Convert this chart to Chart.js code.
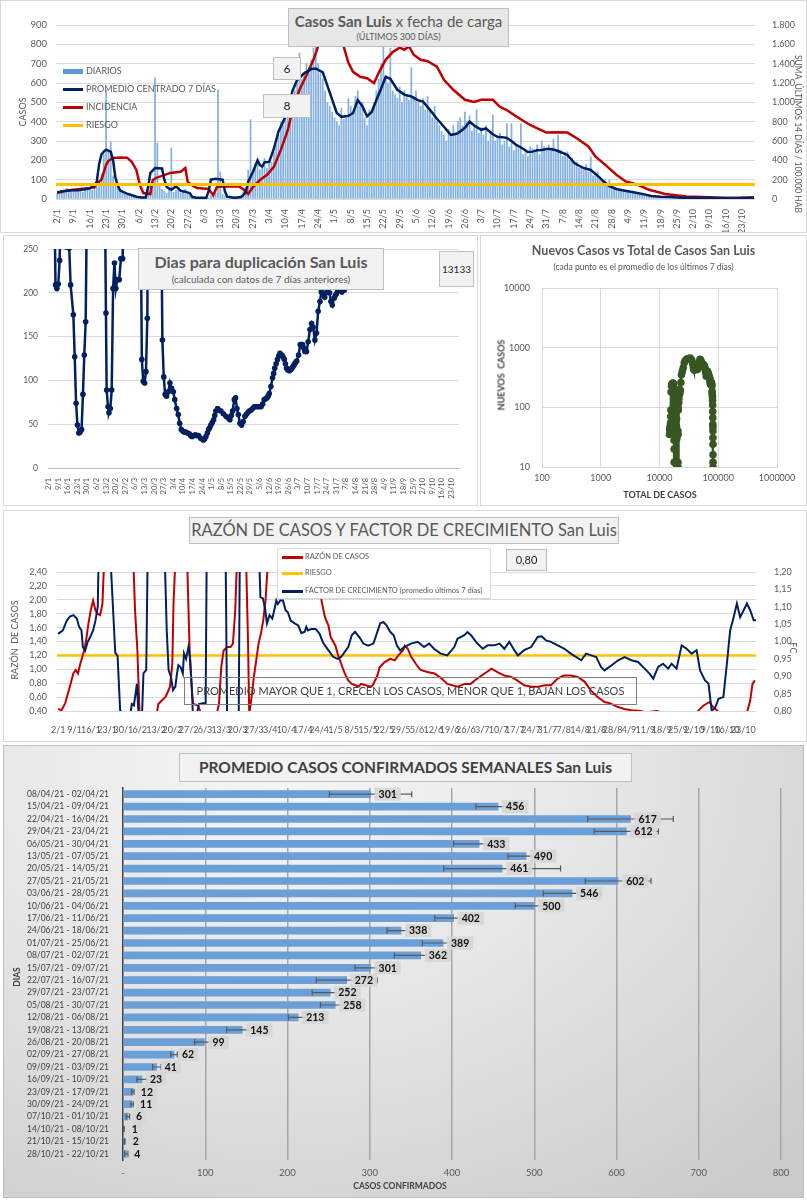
<!DOCTYPE html>
<html lang="es">
<head>
<meta charset="UTF-8">
<title>Casos San Luis</title>
<script src="https://cdn.jsdelivr.net/npm/chart.js"></script>
<style>
  body { margin: 0; background: #fff; font-family: Lato, "Open Sans", sans-serif; }
  #page { position: relative; width: 807px; height: 1200px; overflow: hidden; }
  .frame { position: absolute; box-sizing: border-box; border: 1px solid #d9d9d9; }
  canvas { position: absolute; }
  .box { position: absolute; box-sizing: border-box; background: #f2f2f2; border: 1px solid #bfbfbf;
         color: #595959; text-align: center; white-space: nowrap; }
  .txt { position: absolute; white-space: nowrap; color: #595959; }
  .rot { position: absolute; white-space: nowrap; transform: translate(-50%, -50%) rotate(-90deg); }
  .rotr { position: absolute; white-space: nowrap; transform: translate(-50%, -50%) rotate(90deg); }
  .sw { position: absolute; }
</style>
</head>
<body>
<div id="page">
  <!-- frames -->
  <div class="frame" style="left:0;top:0;width:807px;height:233px"></div>
  <div class="frame" style="left:3px;top:235px;width:475px;height:271px"></div>
  <div class="frame" style="left:480px;top:235px;width:327px;height:271px"></div>
  <div class="frame" style="left:3px;top:510px;width:804px;height:232px"></div>
  <div class="frame" style="left:3px;top:745px;width:801px;height:453px;border-color:#bfbfbf;
       background: radial-gradient(ellipse 90% 120% at 35% 5%, #f6f6f6 0%, #e6e6e6 45%, #cbcbcb 100%);"></div>

  <canvas id="c1" width="807" height="232" style="left:0;top:0"></canvas>
  <canvas id="c2" width="480" height="274" style="left:0;top:233px"></canvas>
  <canvas id="c3" width="327" height="274" style="left:480px;top:233px"></canvas>
  <canvas id="c4" width="807" height="231" style="left:0;top:510px"></canvas>
  <canvas id="c5" width="800" height="452" style="left:3px;top:745px"></canvas>

  <!-- chart 1 texts -->
  <div class="box" style="left:288px;top:8px;width:221px;height:39px;background:#e7e7e7">
    <div style="font-size:15px;line-height:19px;margin-top:3px"><b>Casos San Luis</b> x fecha de carga</div>
    <div style="font-size:9px;line-height:12px">(ÚLTIMOS 300 DÍAS)</div>
  </div>
  <div class="box" style="left:273px;top:57px;width:28px;height:23px;font-size:12px;line-height:21px;color:#262626">6</div>
  <div class="box" style="left:263px;top:94px;width:48px;height:24px;font-size:12px;line-height:22px;color:#262626">8</div>
  <div class="sw" style="left:63px;top:69px;width:20px;height:5px;background:#5b9bd5"></div>
  <div class="txt" style="left:86px;top:65px;font-size:9px">DIARIOS</div>
  <div class="sw" style="left:63px;top:88px;width:20px;height:3px;background:#002060"></div>
  <div class="txt" style="left:86px;top:83px;font-size:9px">PROMEDIO CENTRADO 7 DÍAS</div>
  <div class="sw" style="left:63px;top:106px;width:20px;height:3px;background:#c00000"></div>
  <div class="txt" style="left:86px;top:101px;font-size:9px">INCIDENCIA</div>
  <div class="sw" style="left:63px;top:124px;width:20px;height:3px;background:#ffc000"></div>
  <div class="txt" style="left:86px;top:119px;font-size:9px">RIESGO</div>
  <div class="rot txt" style="left:22px;top:112px;font-size:9px;transform:translate(-50%,-50%) rotate(-90deg)">CASOS</div>
  <div class="rotr txt" style="left:798px;top:134px;font-size:8.5px;transform:translate(-50%,-50%) rotate(90deg)">SUMA&nbsp; ÚLTIMOS 14 DÍAS / 100.000 HAB</div>

  <!-- chart 2 texts -->
  <div class="box" style="left:138px;top:248px;width:246px;height:42px">
    <div style="font-size:16px;line-height:20px;margin-top:3px;font-weight:bold">Dias para duplicación San Luis</div>
    <div style="font-size:10px;line-height:14px">(calculada con datos de 7 días anteriores)</div>
  </div>
  <div class="box" style="left:439px;top:251px;width:35px;height:36px;font-size:10px;line-height:34px;color:#262626">13133</div>

  <!-- chart 3 texts -->
  <div class="txt" style="left:480px;top:243px;width:327px;text-align:center;font-size:12.5px;font-weight:bold">Nuevos Casos vs Total de Casos San Luis</div>
  <div class="txt" style="left:480px;top:262px;width:327px;text-align:center;font-size:8.5px">(cada punto es el promedio de los últimos 7 días)</div>
  <div class="rot txt" style="left:501px;top:375px;font-size:9px;font-weight:bold;color:#404040;transform:translate(-50%,-50%) rotate(-90deg)">NUEVOS&nbsp; CASOS</div>
  <div class="txt" style="left:580px;top:489px;width:160px;text-align:center;font-size:9px;font-weight:bold;color:#404040">TOTAL DE CASOS</div>

  <!-- chart 4 texts -->
  <div class="box" style="left:189px;top:517px;width:430px;height:27px;font-size:16.5px;line-height:25px">RAZÓN DE CASOS Y FACTOR DE CRECIMIENTO San Luis</div>
  <div class="box" style="left:277px;top:548px;width:214px;height:51px;background:#fff;border-color:#d9d9d9"></div>
  <div class="sw" style="left:282px;top:556px;width:21px;height:3px;background:#c00000"></div>
  <div class="txt" style="left:305px;top:552px;font-size:7.5px">RAZÓN DE CASOS</div>
  <div class="sw" style="left:282px;top:572px;width:21px;height:3px;background:#ffc000"></div>
  <div class="txt" style="left:305px;top:568px;font-size:7.5px">RIESGO</div>
  <div class="sw" style="left:282px;top:590px;width:21px;height:3px;background:#002060"></div>
  <div class="txt" style="left:305px;top:586px;font-size:7.5px">FACTOR DE CRECIMIENTO (promedio últimos 7 días)</div>
  <div class="box" style="left:506px;top:549px;width:41px;height:22px;font-size:11px;line-height:20px;color:#262626">0,80</div>
  <div class="box" style="left:184px;top:677px;width:453px;height:28px;background:transparent;border-color:#7f7f7f;font-size:11px;line-height:26px;color:#404040">PROMEDIO MAYOR QUE 1, CRECEN LOS CASOS, MENOR QUE 1, BAJAN LOS CASOS</div>
  <div class="rot txt" style="left:14px;top:640px;font-size:9px;transform:translate(-50%,-50%) rotate(-90deg)">RAZÓN&nbsp; DE CASOS</div>
  <div class="rotr txt" style="left:793px;top:648px;font-size:9px;transform:translate(-50%,-50%) rotate(90deg)">FC</div>

  <!-- chart 5 texts -->
  <div class="box" style="left:179px;top:753px;width:453px;height:29px;font-size:15.5px;line-height:27px;font-weight:bold;color:#404040">PROMEDIO CASOS CONFIRMADOS SEMANALES San Luis</div>
  <div class="rot txt" style="left:17px;top:977px;font-size:8.5px;font-weight:bold;color:#404040;transform:translate(-50%,-50%) rotate(-90deg)">DIAS</div>
  <div class="txt" style="left:320px;top:1181px;width:160px;text-align:center;font-size:8.5px;font-weight:bold;color:#404040">CASOS CONFIRMADOS</div>
</div>

<script>
  // ---------- data ----------
  // fecha labels every 7 days starting 2/1
  const fechas = ['2/1','9/1','16/1','23/1','30/1','6/2','13/2','20/2','27/2','6/3','13/3','20/3','27/3',
    '3/4','10/4','17/4','24/4','1/5','8/5','15/5','22/5','29/5','5/6','12/6','19/6','26/6','3/7','10/7',
    '17/7','24/7','31/7','7/8','14/8','21/8','28/8','4/9','11/9','18/9','25/9','2/10','9/10','16/10','23/10'];

  // daily cases, day 0 = 2/1
  const diarios = [
    28, 35, 42, 30, 55, 48, 38, 52, 45, 40,
    50, 35, 48, 55, 60, 45, 70, 60, 90, 130,
    230, 565, 250, 295, 120, 80, 60, 40, 30, 25,
    20, 30, 15, 10, 5, 8, 0, 12, 5, 60,
    80, 95, 627, 290, 70, 50, 40, 30, 55, 264,
    35, 45, 60, 30, 45, 50, 25, 20, 5, 0,
    8, 3, 10, 0, 6, 4, 20, 35, 30, 565,
    140, 25, 15, 5, 8, 0, 10, 3, 12, 20,
    45, 60, 150, 410, 130, 180, 200, 150, 170, 210,
    160, 200, 190, 240, 280, 330, 400, 380, 420, 460,
    500, 520, 560, 600, 755, 620, 650, 700, 680, 720,
    780, 790, 700, 650, 620, 560, 500, 480, 450, 420,
    400, 380, 470, 410, 420, 520, 480, 440, 530, 560,
    480, 500, 420, 380, 460, 440, 500, 560, 620, 700,
    850, 640, 600, 780, 560, 540, 520, 580, 500, 560,
    540, 510, 680, 530, 560, 500, 480, 520, 460, 530,
    461, 420, 480, 400, 380, 350, 330, 300, 360, 320,
    380, 340, 400, 420, 380, 450, 400, 430, 350, 380,
    461, 340, 370, 330, 380, 300, 350, 435, 300, 320,
    340, 280, 300, 390, 270, 390, 250, 280, 260, 390,
    230, 250, 220, 270, 260, 240, 280, 230, 300, 270,
    250, 280, 260, 310, 240, 330, 250, 220, 240, 245,
    200, 210, 180, 190, 160, 170, 150, 180, 140, 218,
    120, 140, 140, 110, 90, 100, 80, 98, 70, 60,
    55, 50, 45, 40, 45, 35, 30, 35, 28, 30,
    25, 20, 22, 18, 15, 16, 12, 14, 10, 12,
    10, 8, 12, 9, 7, 10, 6, 8, 5, 7,
    6, 4, 8, 5, 3, 6, 4, 5, 2, 6,
    3, 4, 2, 5, 1, 3, 2, 4, 1, 2,
    3, 2, 5, 4, 3, 6, 5, 4, 7, 6
  ];

  // [day, value]
  const promedio7 = [[0,35],[3,42],[6,45],[9,45],[12,50],[14,55],[16,70],[17,90],[18,180],[19,230],[20,245],
    [21,255],[23,245],[24,200],[25,110],[26,70],[27,45],[28,38],[30,28],[32,20],[34,12],[36,8],[38,8],[39,60],
    [40,135],[42,160],[45,158],[46,100],[47,62],[49,48],[51,65],[52,55],[53,42],[55,38],[57,30],[58,10],[60,6],
    [64,6],[65,40],[66,100],[68,105],[71,100],[72,40],[73,12],[76,6],[79,10],[81,35],[82,90],[84,140],[86,200],
    [87,175],[88,168],[89,190],[91,192],[93,260],[95,350],[97,400],[99,460],[101,560],[103,615],[106,650],
    [109,672],[111,675],[114,655],[117,550],[120,445],[122,425],[125,430],[127,445],[129,512],[131,480],
    [133,428],[135,450],[137,512],[139,570],[141,632],[143,622],[146,565],[149,540],[152,530],[155,510],
    [157,504],[160,461],[163,415],[166,374],[169,331],[172,340],[175,368],[177,400],[179,380],[182,358],
    [184,365],[187,335],[189,322],[191,320],[193,316],[195,300],[197,280],[200,260],[202,243],[204,245],
    [206,252],[208,254],[210,258],[212,259],[214,252],[216,243],[219,228],[222,186],[224,172],[226,160],
    [229,150],[231,130],[233,109],[235,85],[237,67],[240,52],[242,47],[245,40],[249,31],[252,24],[255,16],
    [259,12],[263,10],[268,7],[275,6],[285,5],[299,5]];

  // incidencia, right axis (sum 14 days / 100.000 hab)
  const incidencia = [[0,65],[6,93],[13,110],[16,120],[18,180],[19,200],[21,352],[22,395],[24,424],[27,430],
    [30,428],[32,386],[34,300],[35.5,145],[37,62],[40,52],[41,196],[42.5,218],[45,240],[48.5,270],[53,282],
    [55,320],[56,180],[58,140],[60,114],[65,104],[67,40],[68.6,128],[74,132],[78,130],[80,100],[82,52],
    [84,124],[87,196],[90,248],[93,332],[96,508],[99,714],[101,922],[104,1130],[107,1280],[110,1440],
    [113,1648],[116,1850],[119,1900],[121,1800],[123,1575],[125,1409],[127,1316],[130,1264],[133,1250],
    [136,1200],[138,1305],[141,1440],[144,1520],[147,1565],[149,1544],[151,1580],[153,1492],[156,1440],
    [159,1425],[163,1368],[166,1233],[170,1130],[175,1026],[179,1005],[182,1026],[187,1026],[190,954],
    [193,920],[196,870],[200,810],[203,766],[207,720],[210,687],[214,690],[219,687],[223,629],[228,543],
    [231,440],[236,337],[240,251],[244,182],[249,148],[254,96],[261,52],[270,27],[280,17],[287,10],
    [293,12],[299,18]];
  const riesgoIncidencia = 150;

  // dias para duplicacion [day, dias] (values above 250 leave the plot)
  const duplicacion = [[1,320],[4,320],[5,209],[6,205],[7,210],[8,237],[9,320],[12,320],[13,252],[15,251],
    [16,209],[18,175],[19,127],[20,74],[21,49],[22,40],[23,41],[24,44],[25,84],[26,129],[27,167],[28,320],
    [41,320],[41.8,177],[42.3,89],[43.3,70],[44,63],[45,68],[46,89],[47,205],[48,234],[49,205],[50,215],
    [51.5,215],[52.7,239],[54,239],[54.5,320],[67,320],[68,124],[69,99],[70,97],[71,110],[72,171],[72.5,320],
    [82,320],[83,146],[84,104],[85,84],[86,82],[87.3,87],[88.5,97],[89.7,91],[91,87],[92,78],[93.4,68],
    [94.6,61],[95.6,51],[96.8,44],[98,42],[99,41],[100,41],[101.3,40],[102.6,39],[103.6,37],[104.6,36],
    [105.8,37],[107,38],[108.2,37],[109.4,37],[111,34],[112.8,32],[113.8,33],[114.8,36],[115.8,40],
    [116.7,44],[117.5,46],[118.4,49],[119.4,52],[120.4,55],[121.2,60],[122,65],[123.3,68],[124.5,66],
    [125.7,65],[127.5,62],[129.4,59],[131,57],[132.3,55],[133.3,60],[134.2,65],[135.5,78],[136.4,80],
    [137.4,68],[138.4,61],[139.6,51],[140.8,49],[142,53],[143.2,59],[144.2,61],[145.2,63],[146.4,65],
    [147.6,66],[148.8,68],[150,70],[151.2,70],[152.5,70],[153.8,70],[155,70],[156.2,73],[157.3,78],
    [158.3,79],[159.3,80],[160.2,82],[161,85],[162.2,93],[163.4,103],[164.2,108],[165,114],[166,119],
    [167,124],[168,128],[168.8,131],[170.2,129],[171,127],[172,124],[172.8,119],[173.6,114],[174.6,112],
    [175.6,111],[176.5,112],[177.5,114],[178.4,116],[179.2,118],[180,120],[181,122],[182.4,129],[183.6,141],
    [184.5,141],[185.3,141],[186.2,137],[187,133],[188.2,133],[189.4,144],[190.7,158],[191.9,165],[193,161],
    [194.3,146],[195.5,154],[196.7,179],[198,190],[199,201],[200.4,199],[201.5,195],[202.5,200],[203.5,205],
    [205,200],[206,190],[207,186],[208.4,194],[209.2,197],[210,199],[211,202],[212,205],[213,203],[214,201],
    [215.7,203],[217,209],[218,230],[219,320],[299,320]];

  // nuevos casos vs total de casos [total, nuevos]
  const totalVsNuevos = [[14800,35],[14920,42],[15050,45],[15190,45],[15330,50],[15430,55],[15560,70],
    [15640,90],[15760,180],[15990,230],[16220,245],[16780,255],[17030,252],[17320,245],[17440,200],
    [17520,110],[17580,70],[17620,45],[17650,38],[17700,28],[17745,20],[17760,12],[17775,8],[17840,60],
    [17920,135],[18640,160],[19000,160],[19050,158],[19090,100],[19120,62],[19440,48],[19520,65],
    [19610,42],[19700,38],[19750,30],[19755,10],[19765,6],[19800,40],[19820,100],[19850,105],[20415,105],
    [20580,100],[20595,40],[20600,12],[20615,6],[20650,10],[20710,35],[20860,90],[21270,120],[21400,140],
    [21780,200],[22100,168],[22310,190],[22670,192],[23100,260],[23660,350],[24440,400],[25340,460],
    [26360,560],[27480,610],[28840,640],[30870,660],[33150,670],[34500,640],[35750,600],[36800,540],
    [37700,470],[38480,430],[39360,420],[40220,430],[41160,445],[42250,510],[43230,480],[44080,430],
    [44980,450],[45980,490],[47300,560],[48850,640],[50220,620],[51350,580],[52450,530],[53510,540],
    [55110,525],[56700,510],[58200,490],[59190,461],[60490,415],[61620,374],[62520,331],[63600,340],
    [64850,368],[65700,400],[66480,380],[67530,358],[68240,365],[69240,335],[69860,322],[70480,320],
    [71170,316],[71830,300],[72370,280],[73240,260],[73700,243],[74190,245],[74710,252],[75240,254],
    [75760,258],[76290,259],[76840,252],[77400,243],[78100,228],[78630,186],[79000,172],[79320,160],
    [79860,150],[80120,130],[80400,109],[80590,85],[80750,67],[80960,52],[81060,47],[81180,40],
    [81310,31],[81380,24],[81440,16],[81490,12],[81530,10],[81570,7],[81610,6],[81730,5]];

  // razon de casos (left axis) [day, razon]; values outside 0,4-2,4 leave the plot
  const razonCasos = [[0,0.43],[1.4,0.41],[3,0.51],[4,0.63],[5,0.75],[6.5,0.94],[7.5,0.99],[8.5,0.94],
    [9.5,1.08],[11,1.25],[12,1.42],[13,1.66],[14,1.85],[15,1.99],[16,1.85],[17,1.80],[18,1.78],[19,1.94],
    [20,2.8],[31,3.0],[32,2.8],[33,1.85],[34,1.27],[34.5,0.79],[35,0.3],[42,0.3],[43,0.50],[44.5,0.55],
    [46,0.60],[47,0.67],[48,0.75],[49,1.08],[49.5,1.94],[50,2.33],[51,3.0],[55,3.0],[56.5,1.18],[57.5,0.65],
    [58,0.5],[60,0.48],[61.5,0.35],[68,0.35],[69,0.50],[70,1.03],[71,1.27],[72.5,1.32],[74,1.32],[75,1.37],
    [76,1.85],[77,2.8],[80.5,2.8],[81.5,1.37],[82,0.35],[83,0.60],[84,0.89],[85,1.13],[86,1.37],[87,1.51],
    [88,1.70],[89,1.99],[90.5,2.8],[112,2.8],[113,1.99],[114.5,1.75],[116,1.63],[117,1.46],[119,1.34],
    [120,1.22],[122,1.03],[123,0.94],[124.5,0.84],[126,0.79],[127.5,0.77],[129,0.75],[130,0.79],[132,0.77],
    [134,0.75],[135,0.77],[137,0.91],[138,1.03],[140,1.10],[142.5,1.15],[144.5,1.13],[146,1.20],[148,1.27],
    [148.8,1.34],[150,1.30],[151.5,1.18],[153.5,1.08],[155.5,0.99],[158.5,0.96],[161.5,0.94],[164.5,0.87],
    [167,0.79],[171.5,0.75],[174.5,0.79],[177,0.79],[180,0.87],[183,0.94],[186,1.01],[188.5,0.96],
    [191.5,0.91],[194.5,0.89],[197,0.84],[200,0.77],[203,0.75],[206,0.75],[209,0.77],[211.5,0.77],
    [214.5,0.87],[217,0.91],[220,0.91],[223,0.89],[226,0.82],[228.5,0.70],[231.5,0.60],[234.5,0.53],
    [237,0.51],[240,0.46],[243,0.43],[246,0.41],[250,0.40],[252,0.38],[257,0.40],[260,0.37],[274,0.38],
    [277,0.48],[279.5,0.53],[281,0.46],[283,0.40],[285,0.35],[295.5,0.36],[297,0.55],[298,0.79],[299,0.84]];
  const riesgoRazon = 1.2;

  // factor de crecimiento (right axis) [day, fc]
  const factorCrecimiento = [[0,1.022],[2,1.032],[3.7,1.06],[5,1.072],[6.6,1.076],[8,1.066],[9,1.042],
    [10,1.032],[10.6,0.984],[11.6,0.974],[12.6,0.998],[13.7,1.012],[15,1.032],[16,1.06],[17,1.10],[17.5,1.3],
    [22,1.3],[23.7,1.074],[24.5,0.968],[25.5,0.958],[26.6,0.802],[28,0.79],[31,0.79],[31.6,0.82],[32.5,0.816],
    [33.8,0.878],[34.5,0.79],[36,0.79],[36.6,0.908],[37.8,0.918],[38.5,1.3],[45.5,1.3],[46.6,1.032],
    [47.4,0.918],[48.4,0.898],[49.3,0.86],[50.3,0.87],[51,0.908],[51.6,0.932],[52.6,0.926],[53.5,0.908],
    [54,0.966],[54.9,0.95],[55.9,0.984],[56.6,0.956],[57.4,0.86],[57.8,0.79],[59.5,0.79],[60.4,0.82],
    [62,0.822],[63.3,0.822],[63.8,1.3],[71.8,1.3],[72.5,0.79],[77.5,0.79],[78,1.3],[86,1.3],[86.8,1.128],
    [87.9,1.124],[88.9,1.09],[89.6,1.052],[90.7,1.076],[91.9,1.066],[92.9,1.094],[93.6,1.118],[94.3,1.108],
    [95.3,1.118],[96.5,1.118],[97.6,1.09],[98.6,1.084],[99.8,1.06],[101.5,1.052],[103,1.046],[104.4,1.024],
    [105.8,1.028],[106.5,1.042],[107.2,1.032],[108.6,1.036],[110.5,1.036],[112.2,1.022],[113.6,0.998],
    [115,0.984],[116.5,0.97],[118,0.956],[120,0.95],[121.5,0.956],[123,0.97],[124.5,0.984],[126,1.018],
    [127.4,1.028],[129.3,1.012],[131,0.994],[133,0.988],[135.3,0.994],[136.7,1.022],[138.2,1.052],
    [139.6,1.056],[141,1.046],[142.5,1.028],[144,1.018],[145.4,0.988],[146.8,0.974],[148.5,0.984],
    [151.4,0.994],[154.3,0.999],[157,0.984],[159.2,0.994],[161.3,0.979],[164.2,0.965],[167,0.96],[170,0.984],
    [171.4,1.008],[174.3,1.018],[175.7,1.027],[177.2,1.018],[179.3,0.999],[182.2,0.979],[184.3,0.989],
    [187.2,0.989],[189.4,0.994],[191.5,0.979],[193.6,0.999],[195.8,0.975],[197.3,0.96],[200,0.975],
    [203,0.984],[205.8,1.013],[207.5,1.015],[209.4,1.003],[211.5,0.999],[214.4,0.989],[217.3,0.979],
    [220,0.965],[224.5,0.946],[226.6,0.965],[228.8,0.96],[230.9,0.955],[233,0.927],[234.5,0.917],
    [237.4,0.931],[240.3,0.946],[243.1,0.955],[246,0.946],[248.9,0.941],[251.7,0.922],[253.9,0.907],
    [255.4,0.893],[257.5,0.927],[259.6,0.936],[261.8,0.922],[263.3,0.936],[265.4,0.922],[267.6,0.989],
    [269.7,0.979],[271.9,0.965],[274,0.975],[275.5,0.917],[277.6,0.888],[279.1,0.879],[280.5,0.80],
    [282,0.81],[283.4,0.835],[285.5,0.84],[287,0.936],[288.4,1.032],[289.9,1.07],[291.3,1.109],[292.7,1.07],
    [294.2,1.09],[295.6,1.109],[297,1.09],[298.5,1.061],[299.5,1.061]];

  const razonTicks = [0.4, 0.6, 0.8, 1.0, 1.2, 1.4, 1.6, 1.8, 2.0, 2.2, 2.4];
  const fcTicks = [0.80, 0.85, 0.90, 0.95, 1.00, 1.05, 1.10, 1.15, 1.20];
  const logTicksX = [100, 1000, 10000, 100000, 1000000];
  const logTicksY = [10, 100, 1000, 10000];

  // weekly averages
  const semanas = ['08/04/21 - 02/04/21','15/04/21 - 09/04/21','22/04/21 - 16/04/21','29/04/21 - 23/04/21',
    '06/05/21 - 30/04/21','13/05/21 - 07/05/21','20/05/21 - 14/05/21','27/05/21 - 21/05/21',
    '03/06/21 - 28/05/21','10/06/21 - 04/06/21','17/06/21 - 11/06/21','24/06/21 - 18/06/21',
    '01/07/21 - 25/06/21','08/07/21 - 02/07/21','15/07/21 - 09/07/21','22/07/21 - 16/07/21',
    '29/07/21 - 23/07/21','05/08/21 - 30/07/21','12/08/21 - 06/08/21','19/08/21 - 13/08/21',
    '26/08/21 - 20/08/21','02/09/21 - 27/08/21','09/09/21 - 03/09/21','16/09/21 - 10/09/21',
    '23/09/21 - 17/09/21','30/09/21 - 24/09/21','07/10/21 - 01/10/21','14/10/21 - 08/10/21',
    '21/10/21 - 15/10/21','28/10/21 - 22/10/21'];
  const promedios = [301, 456, 617, 612, 433, 490, 461, 602, 546, 500, 402, 338, 389, 362, 301,
    272, 252, 258, 213, 145, 99, 62, 41, 23, 12, 11, 6, 1, 2, 4];
  const errores = [50, 27, 52, 39, 31, 22, 71, 40, 35, 23, 23, 17, 25, 32, 19,
    37, 22, 18, 12, 19, 12, 4, 5, 6, 1.5, 1.5, 2, 0.5, 0.5, 2];

  // ---------- helpers ----------
  Chart.defaults.font.family = 'Lato, "Open Sans", sans-serif';
  Chart.defaults.color = '#595959';
  Chart.defaults.animation = false;

  const pts = arr => arr.map(p => ({ x: p[0], y: p[1] }));
  const fixW = w => s => { s.width = w; };
  const fixH = h => s => { s.height = h; };
  const weekTicks = s => { s.ticks = fechas.map((f, i) => ({ value: i * 7 })); };
  const noPlugins = { legend: { display: false }, tooltip: { enabled: false } };
  const miles = v => String(v).replace(/\B(?=(\d{3})+(?!\d))/g, '.');
  const coma = v => v.toFixed(2).replace('.', ',');

  // ---------- chart 1: casos ----------
  new Chart(document.getElementById('c1'), {
    type: 'bar',
    data: {
      datasets: [
        { type: 'line', data: [{ x: -0.5, y: riesgoIncidencia }, { x: 299.5, y: riesgoIncidencia }], yAxisID: 'y2',
          borderColor: '#ffc000', borderWidth: 3, pointRadius: 0, order: 0 },
        { type: 'line', data: pts(promedio7), yAxisID: 'y', borderColor: '#002060', borderWidth: 2.5,
          pointRadius: 0, order: 1 },
        { type: 'line', data: pts(incidencia), yAxisID: 'y2', borderColor: '#c00000', borderWidth: 2.5,
          pointRadius: 0, order: 2 },
        { type: 'bar', data: diarios.map((v, i) => ({ x: i, y: v })), yAxisID: 'y',
          backgroundColor: '#86b2e2', barThickness: 1.1, order: 3 }
      ]
    },
    options: {
      responsive: false,
      layout: { padding: { top: 25, left: 0, right: 0, bottom: 0 } },
      plugins: noPlugins,
      scales: {
        x: { type: 'linear', min: -0.5, max: 299.5, offset: false, afterBuildTicks: weekTicks, afterFit: fixH(33),
             grid: { display: false }, border: { display: false },
             ticks: { autoSkip: false, minRotation: 90, maxRotation: 90, padding: 2, font: { size: 9 },
                      callback: (v, i) => fechas[i] } },
        y: { min: 0, max: 900, afterFit: fixW(56), border: { display: false },
             grid: { color: '#d9d9d9', drawTicks: false },
             ticks: { stepSize: 100, padding: 9, font: { size: 9.5 } } },
        y2: { position: 'right', min: 0, max: 1800, afterFit: fixW(52), border: { display: false },
              grid: { display: false },
              ticks: { stepSize: 200, padding: 9, font: { size: 9 }, callback: v => miles(v) } }
      }
    }
  });

  // ---------- chart 2: dias para duplicacion ----------
  new Chart(document.getElementById('c2'), {
    type: 'line',
    data: {
      datasets: [{ data: pts(duplicacion), borderColor: '#002060', borderWidth: 2.5, pointRadius: 2.8,
                   pointBackgroundColor: '#002060', pointBorderWidth: 0 }]
    },
    options: {
      responsive: false,
      layout: { padding: { top: 16, right: 21, left: 0, bottom: 0 } },
      plugins: noPlugins,
      scales: {
        x: { type: 'linear', min: -0.5, max: 299.5, afterBuildTicks: weekTicks, afterFit: fixH(39),
             grid: { display: false }, border: { color: '#bfbfbf' },
             ticks: { autoSkip: false, minRotation: 90, maxRotation: 90, padding: 2, font: { size: 7.5 },
                      callback: (v, i) => fechas[i] } },
        y: { min: 0, max: 250, afterFit: fixW(48), border: { display: false },
             grid: { color: '#d9d9d9', drawTicks: false },
             ticks: { stepSize: 50, padding: 10, font: { size: 8.5 } } }
      }
    }
  });

  // ---------- chart 3: nuevos vs total ----------
  new Chart(document.getElementById('c3'), {
    type: 'scatter',
    data: {
      datasets: [{ data: pts(totalVsNuevos), showLine: true, borderColor: '#375623', borderWidth: 2.5,
                   pointRadius: 3.8, pointBackgroundColor: '#375623', pointBorderWidth: 0 }]
    },
    options: {
      responsive: false,
      layout: { padding: { top: 55, right: 30, left: 0, bottom: 0 } },
      plugins: noPlugins,
      scales: {
        x: { type: 'logarithmic', min: 100, max: 1000000, afterFit: fixH(40),
             afterBuildTicks: s => { s.ticks = logTicksX.map(v => ({ value: v })); },
             grid: { color: '#d9d9d9', drawTicks: false }, border: { color: '#d9d9d9' },
             ticks: { padding: 6, font: { size: 9 }, callback: v => String(v) } },
        y: { type: 'logarithmic', min: 10, max: 10000, afterFit: fixW(62),
             afterBuildTicks: s => { s.ticks = logTicksY.map(v => ({ value: v })); },
             grid: { color: '#d9d9d9', drawTicks: false }, border: { color: '#d9d9d9' },
             ticks: { padding: 12, font: { size: 9 }, callback: v => String(v) } }
      }
    }
  });

  // ---------- chart 4: razon de casos y factor de crecimiento ----------
  new Chart(document.getElementById('c4'), {
    type: 'line',
    data: {
      datasets: [
        { data: [{ x: -0.5, y: riesgoRazon }, { x: 299.5, y: riesgoRazon }], yAxisID: 'y',
          borderColor: '#ffc000', borderWidth: 2.5, pointRadius: 0, order: 2 },
        { data: pts(razonCasos), yAxisID: 'y', borderColor: '#c00000', borderWidth: 2, pointRadius: 0, order: 1 },
        { data: pts(factorCrecimiento), yAxisID: 'y2', borderColor: '#002060', borderWidth: 2, pointRadius: 0, order: 0 }
      ]
    },
    options: {
      responsive: false,
      layout: { padding: { top: 62, left: 0, right: 0, bottom: 0 } },
      plugins: noPlugins,
      scales: {
        x: { type: 'linear', min: -0.5, max: 299.5, afterBuildTicks: weekTicks, afterFit: fixH(30),
             grid: { display: false }, border: { display: false },
             ticks: { autoSkip: false, minRotation: 0, maxRotation: 0, padding: 6, font: { size: 9 },
                      callback: (v, i) => fechas[i] } },
        y: { min: 0.4, max: 2.4, afterFit: fixW(57), border: { display: false },
             afterBuildTicks: s => { s.ticks = razonTicks.map(v => ({ value: v })); },
             grid: { color: '#d9d9d9', drawTicks: false },
             ticks: { padding: 10, font: { size: 9 }, callback: v => coma(v) } },
        y2: { position: 'right', min: 0.8, max: 1.2, afterFit: fixW(51), border: { display: false },
              afterBuildTicks: s => { s.ticks = fcTicks.map(v => ({ value: v })); },
              grid: { display: false },
              ticks: { padding: 10, font: { size: 9 }, callback: v => coma(v) } }
      }
    }
  });

  // ---------- chart 5: promedio semanal ----------
  const errorBars = {
    id: 'errorBars',
    afterDatasetsDraw(chart) {
      const { ctx } = chart;
      const x = chart.scales.x;
      const meta = chart.getDatasetMeta(0);
      ctx.save();
      ctx.strokeStyle = '#595959';
      ctx.lineWidth = 1.2;
      meta.data.forEach((bar, i) => {
        const x0 = x.getPixelForValue(promedios[i] - errores[i]);
        const x1 = x.getPixelForValue(promedios[i] + errores[i]);
        ctx.beginPath();
        ctx.moveTo(x0, bar.y); ctx.lineTo(x1, bar.y);
        ctx.moveTo(x0, bar.y - 3); ctx.lineTo(x0, bar.y + 3);
        ctx.moveTo(x1, bar.y - 3); ctx.lineTo(x1, bar.y + 3);
        ctx.stroke();
      });
      ctx.font = 'bold 10.5px Lato, sans-serif';
      ctx.textBaseline = 'middle';
      meta.data.forEach((bar, i) => {
        const txt = String(promedios[i]);
        const w = ctx.measureText(txt).width + 8;
        const bx = bar.x + 4;
        ctx.fillStyle = 'rgba(214,214,214,0.92)';
        ctx.fillRect(bx, bar.y - 6.5, w, 13);
        ctx.fillStyle = '#111';
        ctx.fillText(txt, bx + 4, bar.y + 0.5);
      });
      ctx.restore();
    }
  };

  new Chart(document.getElementById('c5'), {
    type: 'bar',
    data: {
      labels: semanas,
      datasets: [{ data: promedios, backgroundColor: '#6a9fd8', barThickness: 7 }]
    },
    options: {
      indexAxis: 'y',
      responsive: false,
      layout: { padding: { top: 43, right: 22, left: 0, bottom: 0 } },
      plugins: noPlugins,
      scales: {
        x: { min: 0, max: 800, afterFit: fixH(37), border: { display: false },
             grid: { drawTicks: false, lineWidth: 1.5,
                     color: c => (c.tick && c.tick.value === 0) ? 'rgba(0,0,0,0)' : '#a6a6a6' },
             ticks: { stepSize: 100, padding: 7, font: { size: 9.5 }, callback: v => v === 0 ? '-' : v } },
        y: { afterFit: fixW(120), grid: { display: false }, border: { color: '#404040', width: 1.5 },
             ticks: { autoSkip: false, padding: 6, color: '#404040', font: { size: 8.5 } } }
      }
    },
    plugins: [errorBars]
  });
</script>
</body>
</html>
